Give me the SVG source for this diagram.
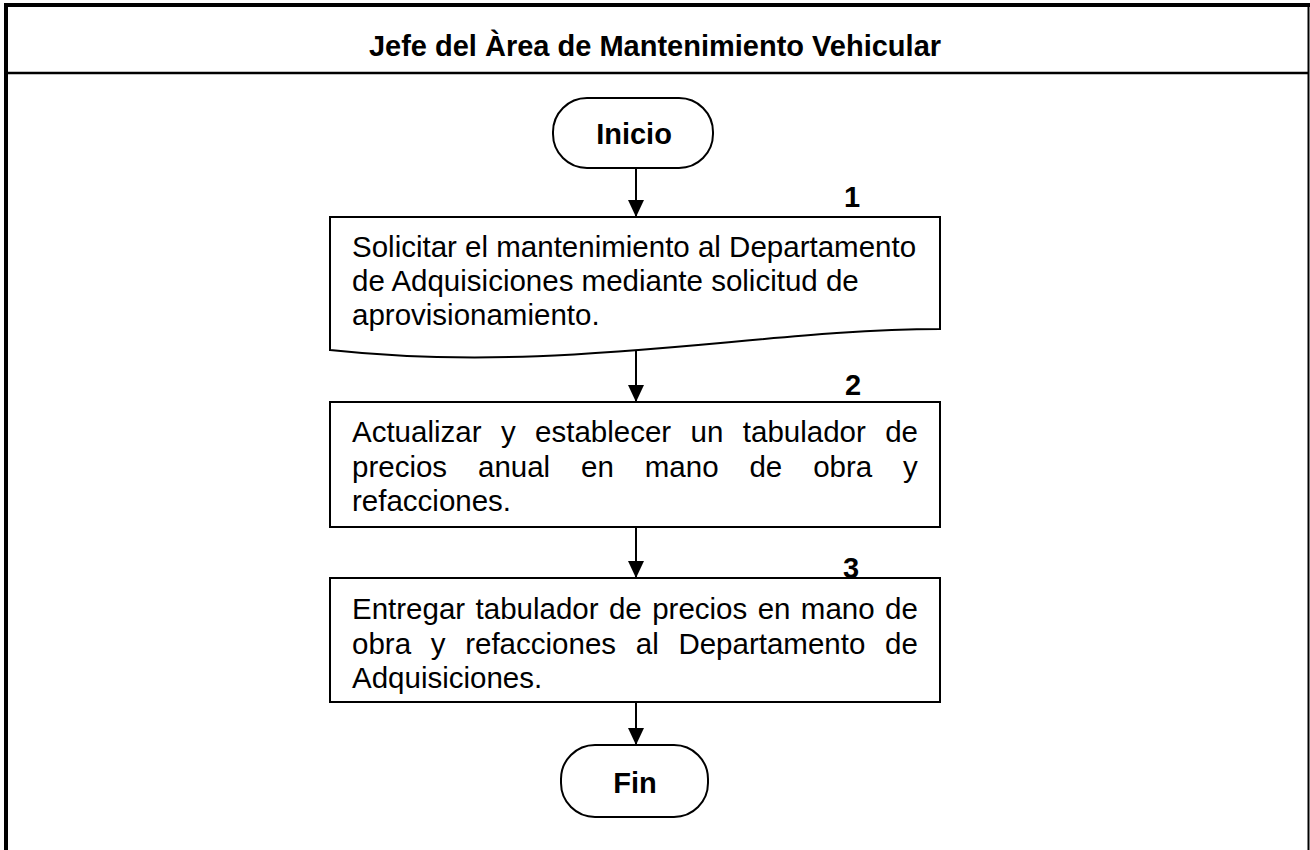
<svg xmlns="http://www.w3.org/2000/svg" width="1310" height="850" viewBox="0 0 1310 850">
<defs>
<style>
.frame{fill:none;stroke:#000}
.shape{fill:#fff;stroke:#000;stroke-width:2}
.conn{fill:none;stroke:#000;stroke-width:2}
.b{font-family:"Liberation Sans",Arial,sans-serif;font-weight:bold;font-size:29px;fill:#000}
.t{font-family:"Liberation Sans",Arial,sans-serif;font-size:29.5px;fill:#000}
</style>
<marker id="arr" markerWidth="18" markerHeight="18" refX="17" refY="8" orient="auto" markerUnits="userSpaceOnUse">
<path d="M0,0 L17,8 L0,16 Z" fill="#000"/>
</marker>
</defs>
<rect width="1310" height="850" fill="#fff"/>
<g id="frame">
<line class="frame" x1="4" y1="5" x2="1310" y2="5" stroke-width="4"/>
<line class="frame" x1="6" y1="3" x2="6" y2="850" stroke-width="4"/>
<line class="frame" x1="1308.5" y1="5" x2="1308.5" y2="850" stroke-width="2"/>
<line class="frame" x1="6" y1="73" x2="1308" y2="73" stroke-width="2.5"/>
<text class="b" x="655" y="56" text-anchor="middle">Jefe del Àrea de Mantenimiento Vehicular</text>
</g>
<g id="connectors">
<line class="conn" x1="636" y1="168" x2="636" y2="217" marker-end="url(#arr)"/>
<line class="conn" x1="636" y1="351" x2="636" y2="402" marker-end="url(#arr)"/>
<line class="conn" x1="636" y1="527" x2="636" y2="578" marker-end="url(#arr)"/>
<line class="conn" x1="636" y1="702" x2="636" y2="745" marker-end="url(#arr)"/>
</g>
<g id="inicio">
<rect class="shape" x="553" y="98" width="160" height="70" rx="34" ry="34"/>
<text class="b" x="634" y="144" text-anchor="middle">Inicio</text>
</g>
<g id="step1">
<path class="shape" d="M330,217 H940 V329 C760,329 560,375 330,350 Z"/>
<text class="b" x="852" y="207" text-anchor="middle">1</text>
<text class="t" x="352" y="257">Solicitar el mantenimiento al Departamento</text>
<text class="t" x="352" y="291">de Adquisiciones mediante solicitud de</text>
<text class="t" x="352" y="325">aprovisionamiento.</text>
</g>
<g id="step2">
<rect class="shape" x="330" y="402" width="610" height="125"/>
<text class="b" x="853" y="395" text-anchor="middle">2</text>
<text class="t" x="352" y="442" word-spacing="11.2">Actualizar y establecer un tabulador de</text>
<text class="t" x="352" y="477" word-spacing="22.7">precios anual en mano de obra y</text>
<text class="t" x="352" y="511">refacciones.</text>
</g>
<g id="step3">
<rect class="shape" x="330" y="578" width="610" height="124"/>
<text class="b" x="851" y="578" text-anchor="middle">3</text>
<text class="t" x="352" y="619" word-spacing="2.2">Entregar tabulador de precios en mano de</text>
<text class="t" x="352" y="654" word-spacing="11.5">obra y refacciones al Departamento de</text>
<text class="t" x="352" y="688">Adquisiciones.</text>
</g>
<g id="fin">
<rect class="shape" x="561" y="745" width="147" height="72" rx="34" ry="34"/>
<text class="b" x="635" y="793" text-anchor="middle">Fin</text>
</g>
</svg>
